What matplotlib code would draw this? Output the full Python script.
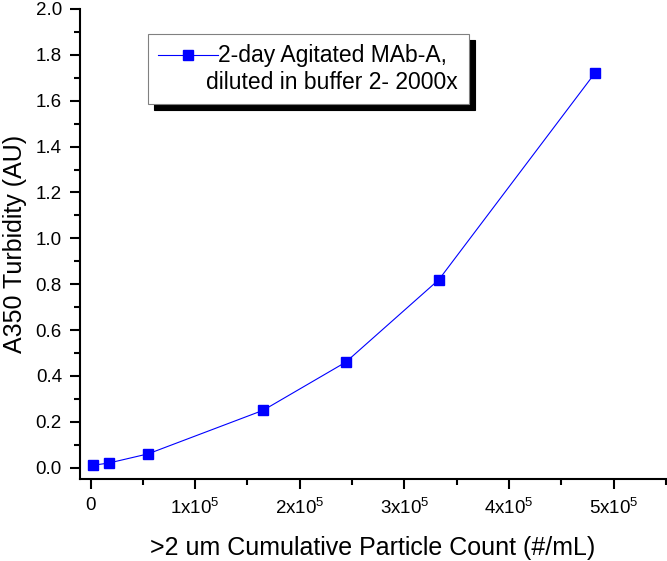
import numpy as np
import matplotlib
matplotlib.use("Agg")
import matplotlib.pyplot as plt
from matplotlib.ticker import MultipleLocator, FuncFormatter
from matplotlib.legend_handler import HandlerLine2D

# >2 um cumulative particle count (#/mL) vs A350 turbidity (AU)
particle_count = [2000, 17500, 55000, 165000, 244000, 333000, 482000]
turbidity = [0.01, 0.02, 0.06, 0.25, 0.46, 0.82, 1.72]
series_label = "2-day Agitated MAb-A,\ndiluted in buffer 2- 2000x"

plt.rcParams['font.family'] = ['Liberation Sans', 'DejaVu Sans']
plt.rcParams['mathtext.fontset'] = 'custom'
plt.rcParams['mathtext.rm'] = 'Liberation Sans'


def sci_fmt(v, pos):
    if v == 0:
        return "0"
    n = int(round(v / 1e5))
    return r"%dx10$^{5}$" % n


class FirstLineHandler(HandlerLine2D):
    # put the legend handle next to the first line of a two-line label
    def create_artists(self, legend, orig_handle, xdescent, ydescent,
                       width, height, fontsize, trans):
        return super().create_artists(legend, orig_handle, xdescent,
                                      ydescent - 22, width, height,
                                      fontsize, trans)


fig = plt.figure(figsize=(6.67, 5.61), dpi=100)
ax = fig.add_axes([0.12, 0.146, 0.8785, 0.838])

line, = ax.plot(particle_count, turbidity, color='#0000ff', lw=0.8,
                marker='s', markersize=7.3, markerfacecolor='#0000ff',
                markeredgecolor='#0000ff', label=series_label)

ax.set_xlim(-10000, 550000)
ax.set_ylim(-0.05, 2.0)

ax.xaxis.set_major_locator(MultipleLocator(1e5))
ax.xaxis.set_minor_locator(MultipleLocator(0.5e5))
ax.xaxis.set_major_formatter(FuncFormatter(sci_fmt))
ax.yaxis.set_major_locator(MultipleLocator(0.2))
ax.yaxis.set_minor_locator(MultipleLocator(0.1))
ax.yaxis.set_major_formatter(FuncFormatter(lambda v, p: "%.1f" % v))

for s in ['top', 'right']:
    ax.spines[s].set_visible(False)
for s in ['left', 'bottom']:
    ax.spines[s].set_linewidth(1.5)

ax.tick_params(which='major', direction='out', length=7, width=1.5,
               labelsize=13.5, pad=6)
ax.tick_params(which='minor', direction='out', length=4, width=1.5)

ax.set_xlabel(">2 um Cumulative Particle Count (#/mL)", fontsize=18, labelpad=13)
ax.set_ylabel("A350 Turbidity (AU)", fontsize=18, labelpad=6)

leg = ax.legend(loc='upper left', bbox_to_anchor=(0.116, 0.947),
                borderaxespad=0, fontsize=16.5, fancybox=False,
                edgecolor='#808080', framealpha=1, handlelength=2.6,
                handletextpad=-0.5, borderpad=0.45,
                handler_map={line: FirstLineHandler()},
                shadow={'ox': 4.5, 'oy': -4.5, 'color': 'black', 'alpha': 1})
leg.get_frame().set_linewidth(0.8)
for t in leg.get_texts():
    t.set_multialignment('center')

fig.savefig("out.png", dpi=100)
